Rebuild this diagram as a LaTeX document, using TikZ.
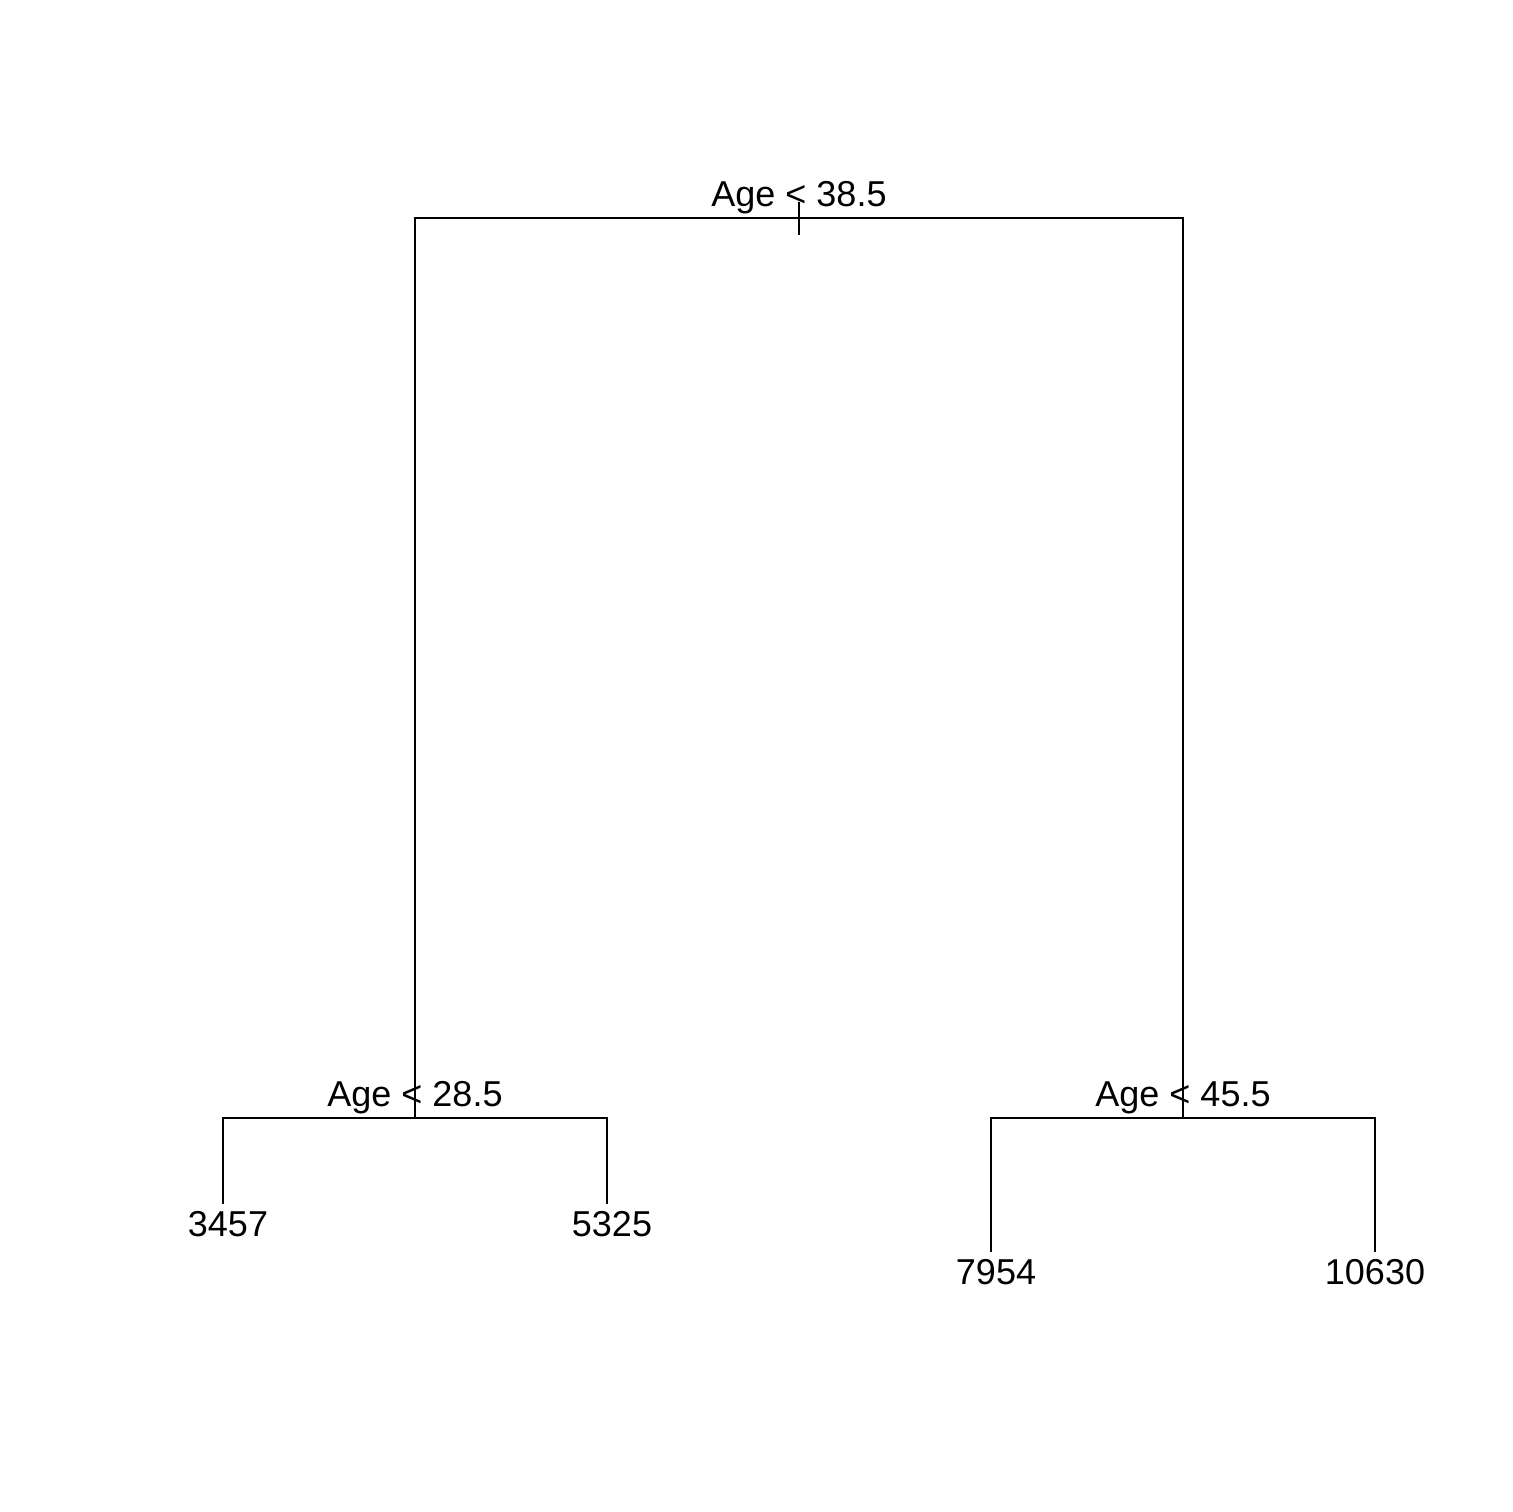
\documentclass[tikz,border=0pt]{standalone}
\usepackage{fontspec}
\setmainfont{Liberation Sans}
\begin{document}
\begin{tikzpicture}[x=1pt,y=-1pt,
  edge/.style={line width=2.3pt,line cap=rect},
  lbl/.style={anchor=base,inner sep=0pt,font=\fontsize{36}{43}\selectfont}]
\useasboundingbox[fill=white] (0,0) rectangle (1512,1512);
% junction points
\coordinate (root) at (799,218);
\coordinate (rootTick) at (799,234);
\coordinate (rootTickTop) at (799,203);
\coordinate (rl) at (415,218);
\coordinate (rr) at (1183,218);
\coordinate (L) at (415,1118);
\coordinate (R) at (1183,1118);
\coordinate (Ll) at (223,1118);
\coordinate (Lr) at (607,1118);
\coordinate (Rl) at (991,1118);
\coordinate (Rr) at (1375,1118);
\coordinate (leaf1) at (223,1203);
\coordinate (leaf2) at (607,1203);
\coordinate (leaf3) at (991,1251);
\coordinate (leaf4) at (1375,1251);
% edges
\draw[edge] (rootTickTop) -- (rootTick);
\draw[edge] (L) -- (rl) -- (rr) -- (R);
\draw[edge] (leaf1) -- (Ll) -- (Lr) -- (leaf2);
\draw[edge] (leaf3) -- (Rl) -- (Rr) -- (leaf4);
% labels
\node[lbl] (t0) at (799,206) {Age < 38.5};
\node[lbl] (t1) at (415,1106) {Age < 28.5};
\node[lbl] (t2) at (1183,1106) {Age < 45.5};
\node[lbl] (n1) at (228,1236) {3457};
\node[lbl] (n2) at (612,1236) {5325};
\node[lbl] (n3) at (996,1284) {7954};
\node[lbl] (n4) at (1375,1284) {10630};
\end{tikzpicture}
\end{document}
